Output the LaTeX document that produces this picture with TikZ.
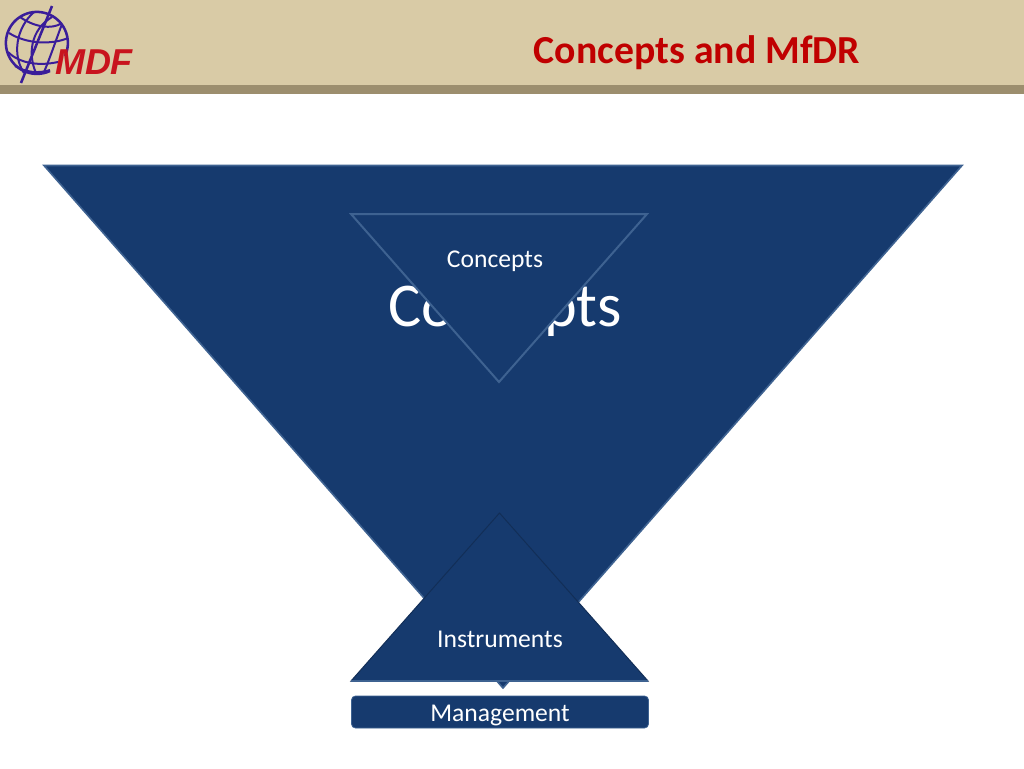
\documentclass[tikz,border=0pt]{standalone}
\usepackage{fontspec}
\setmainfont{Carlito}
\newfontfamily\logofont{Liberation Sans}
\definecolor{band}{HTML}{D9CBA6}
\definecolor{bandline}{HTML}{9C8E6E}
\definecolor{navy}{HTML}{163A6E}
\definecolor{edgeblue}{HTML}{3E6291}
\definecolor{darkedge}{HTML}{122E57}
\definecolor{titlered}{HTML}{C00000}
\definecolor{globe}{HTML}{3A1D9A}
\definecolor{logored}{HTML}{C8141E}
\tikzset{
  tri/.style={fill=navy,draw=edgeblue,line width=1.5pt,line join=miter},
  tridark/.style={fill=navy,draw=darkedge,line width=0.75pt,line join=miter},
  label/.style={text=white,inner sep=0pt,anchor=center},
  globeline/.style={draw=globe,line width=1.5pt}
}
\begin{document}
\begin{tikzpicture}[x=0.75pt,y=-0.75pt]
\useasboundingbox (0,0) rectangle (1024,768);
\fill[white] (0,0) rectangle (1024,768);
\fill[band] (0,0) rectangle (1024,85);
\fill[bandline] (0,85) rectangle (1024,94);
% logo
\draw[globeline,line width=1.9pt] (50,71) arc [start angle=65,end angle=385,radius=31];
\draw[globeline,line width=1.9pt] (52,6) -- (21,83);
\draw[globeline] (20,17) .. controls (34,27) and (52,30) .. (62,23);
\draw[globeline] (9,33) .. controls (26,44) and (52,45) .. (68,38);
\draw[globeline] (8,52) .. controls (20,64) and (40,66) .. (58,62);
\draw[globeline] (15,66) .. controls (25,72) and (38,74) .. (50,70);
\draw[globeline] (34,12) .. controls (16,28) and (12,55) .. (24,73);
\draw[globeline] (52,17) .. controls (30,30) and (28,55) .. (36,73);
\draw[globeline] (62,24) .. controls (56,40) and (50,58) .. (44,72);
\node[inner sep=0pt,anchor=center,text=logored] (logotext) at (94,62)
  {\logofont\bfseries\itshape\fontsize{27}{27}\selectfont MDF};
\node[inner sep=0pt,anchor=center,text=titlered] (title) at (697,53)
  {\bfseries\fontsize{29.8}{29.8}\selectfont Concepts and MfDR};
% big triangle
\fill[navy,draw=edgeblue,line width=1.2pt,line join=miter] (44,165.5) -- (962,165.5) -- (503,688) -- cycle;
\node[label] (bigconcepts) at (505,311) {\fontsize{46.7}{46.7}\selectfont Concepts};
% small inverted triangle
\draw[tri] (351,214) -- (647,214) -- (499,382) -- cycle;
\node[label] (smallconcepts) at (495,261) {\fontsize{19.2}{19.2}\selectfont Concepts};
% instruments
\draw[tridark] (499.5,513) -- (648,681) -- (351,681) -- cycle;
\draw[edgeblue,line width=0.8pt] (351,681) -- (648,681);
\node[label] (instruments) at (500,639) {\fontsize{19.2}{19.2}\selectfont Instruments};
% management
\node[fill=navy,draw=edgeblue,line width=0.6pt,rounded corners=3pt,minimum width=222.75pt,minimum height=24pt,inner sep=0pt,anchor=center] (management) at (500,712) {};
\node[label] (managementtext) at (500,715.5) {\fontsize{19.2}{19.2}\selectfont Management};
\end{tikzpicture}
\end{document}
